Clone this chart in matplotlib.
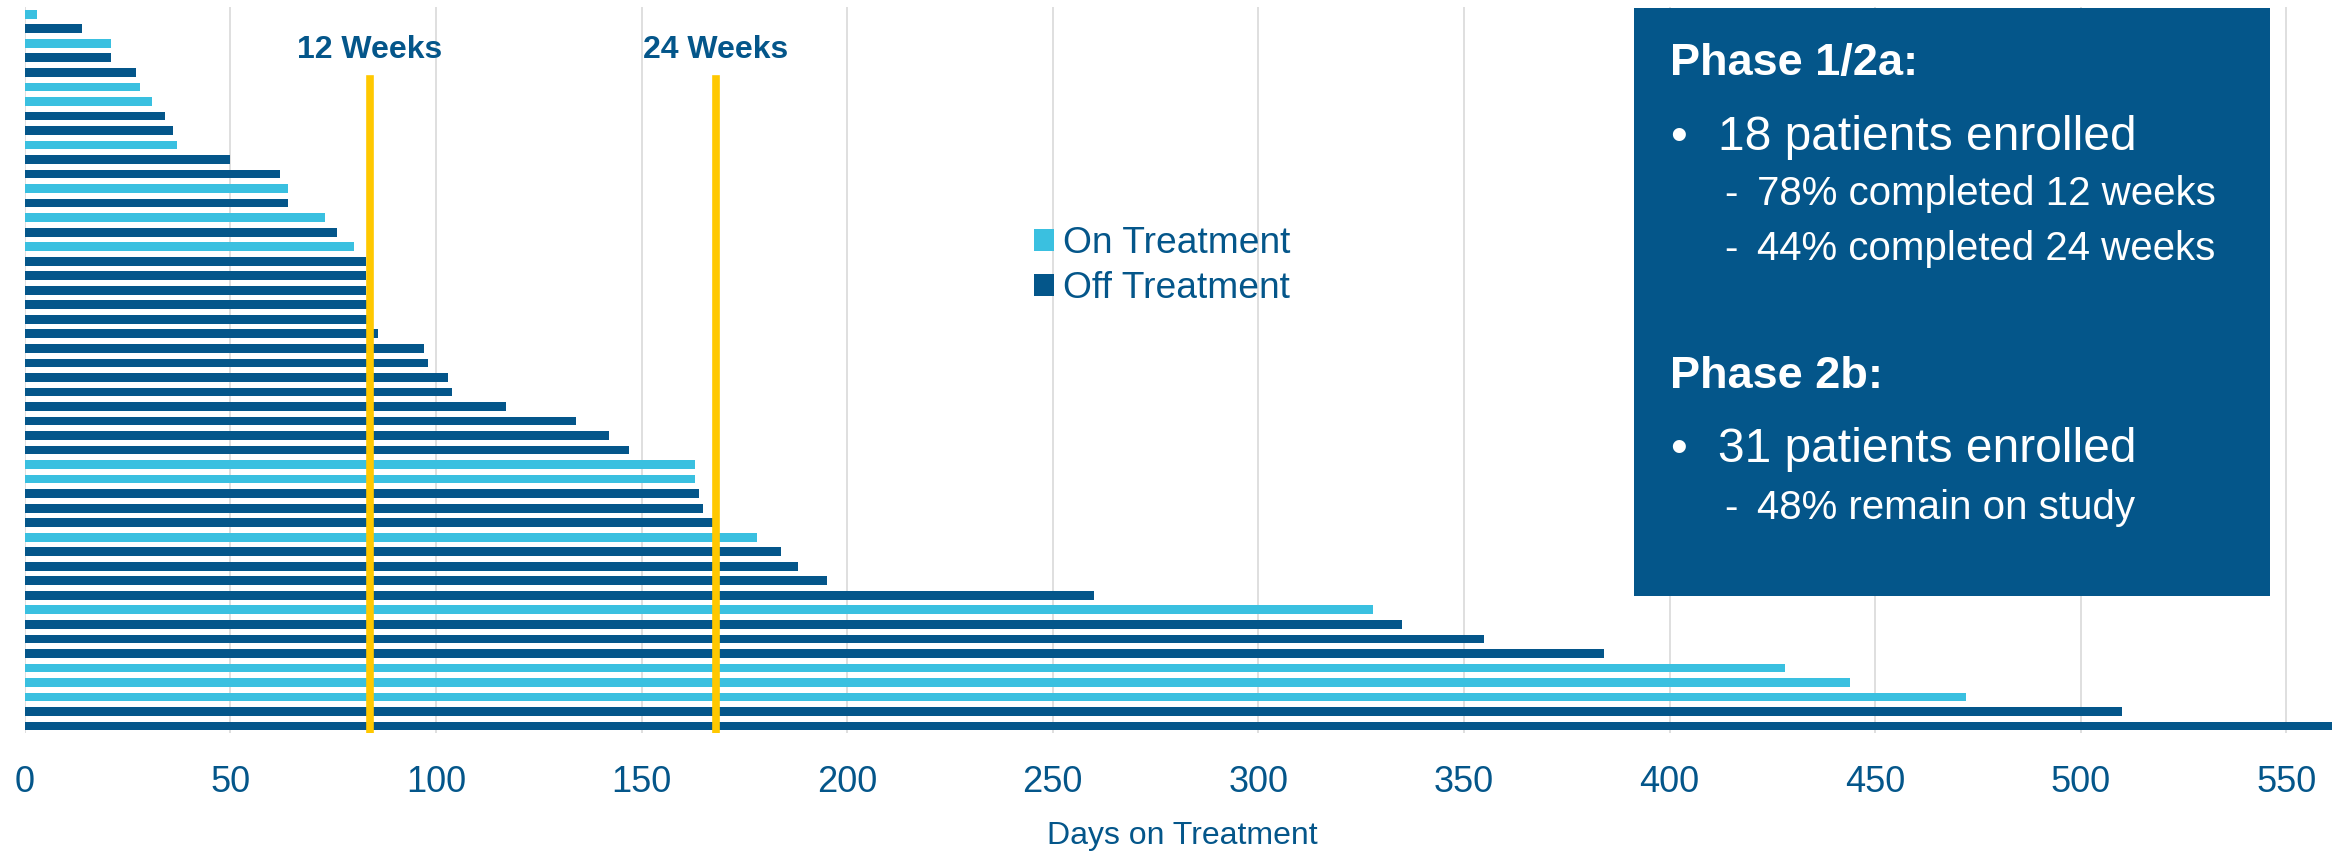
import matplotlib
matplotlib.use("Agg")
import matplotlib.pyplot as plt
from matplotlib.patches import Patch, Rectangle
from matplotlib import transforms

plt.rcParams['font.family'] = ['Liberation Sans', 'DejaVu Sans']

# Days on treatment per patient, top to bottom
days = [3, 14, 21, 21, 27, 28, 31, 34, 36, 37,
        50, 62, 64, 64, 73, 76, 80, 83, 83, 83,
        84, 84, 86, 97, 98, 103, 104, 117, 134, 142,
        147, 163, 163, 164, 165, 168, 178, 184, 188, 195,
        260, 328, 335, 355, 384, 428, 444, 472, 510, 561]
# True = still on treatment
on_treatment = [True, False, True, False, False, True, True, False, False, True,
                False, False, True, False, True, False, True, False, False, False,
                False, False, False, False, False, False, False, False, False, False,
                False, True, True, False, False, False, True, False, False, False,
                False, True, False, False, False, True, True, True, False, False]
milestones = [84, 168]
milestone_labels = ["12 Weeks", "24 Weeks"]
xticks = list(range(0, 551, 50))
series_labels = ["On Treatment", "Off Treatment"]

DARK = "#04568A"
CYAN = "#3AC0E0"
GOLD = "#FFC800"
GRID = "#D9D9D9"

W, H = 2346, 851
fig = plt.figure(figsize=(W / 100, H / 100), dpi=100)


def fx(x):
    return x / W


def fy(y):
    return 1 - y / H


ax = fig.add_axes([fx(24.7), fy(733.3), fx(2339.8) - fx(24.7), fy(7.0) - fy(733.3)])

ypos = list(range(len(days)))
colors = [CYAN if s else DARK for s in on_treatment]
ax.barh(ypos, days, height=0.6, color=colors, zorder=2)

ax.set_xlim(0, 563)
ax.set_ylim(len(days) - 0.5, -0.5)
ax.set_yticks([])
ax.set_xticks(xticks)
ax.tick_params(axis='x', length=0, pad=23, labelsize=26, labelcolor=DARK)
ax.grid(axis='x', color=GRID, linewidth=1.2, zorder=0)
ax.set_axisbelow(True)
for sp in ax.spines.values():
    sp.set_visible(False)
ax.set_xlabel("Days on Treatment", fontsize=23, color=DARK, labelpad=15)

# milestone lines and labels
label_tr = transforms.blended_transform_factory(ax.transData, fig.transFigure)
for m, lab in zip(milestones, milestone_labels):
    ax.axvline(m, ymin=0, ymax=0.901, color=GOLD, linewidth=5.5, zorder=3)
    ax.text(m, fy(58.3), lab, transform=label_tr, ha='center', va='baseline',
            fontsize=23, fontweight='bold', color=DARK)

# legend
handles = [Patch(facecolor=CYAN, edgecolor='none'), Patch(facecolor=DARK, edgecolor='none')]
leg = ax.legend(handles, series_labels, loc='upper left',
                bbox_to_anchor=(fx(1034), fy(226)), bbox_transform=fig.transFigure,
                frameon=False, fontsize=26.7, handlelength=0.54, handleheight=0.54,
                handletextpad=0.25, labelspacing=0.27, borderpad=0, borderaxespad=0)
for t in leg.get_texts():
    t.set_color(DARK)

# summary panel
fig.add_artist(Rectangle((fx(1634), fy(596)), fx(2270) - fx(1634), fy(7.5) - fy(596),
                         transform=fig.transFigure, facecolor=DARK, edgecolor='none', zorder=5))

panel = [
    (1670, 75, "Phase 1/2a:", 32.5, 'bold'),
    (1670, 150, "•", 34.5, 'normal'),
    (1718, 150, "18 patients enrolled", 34.5, 'normal'),
    (1724, 205, "-", 29, 'normal'),
    (1757, 205, "78% completed 12 weeks", 29, 'normal'),
    (1724, 260, "-", 29, 'normal'),
    (1757, 260, "44% completed 24 weeks", 29, 'normal'),
    (1670, 388, "Phase 2b:", 32.5, 'bold'),
    (1670, 462, "•", 34.5, 'normal'),
    (1718, 462, "31 patients enrolled", 34.5, 'normal'),
    (1724, 519, "-", 29, 'normal'),
    (1757, 519, "48% remain on study", 29, 'normal'),
]
for x, y, s, size, weight in panel:
    fig.text(fx(x), fy(y), s, ha='left', va='baseline', fontsize=size,
             fontweight=weight, color='white', zorder=6)

fig.savefig("out.png", dpi=100)
